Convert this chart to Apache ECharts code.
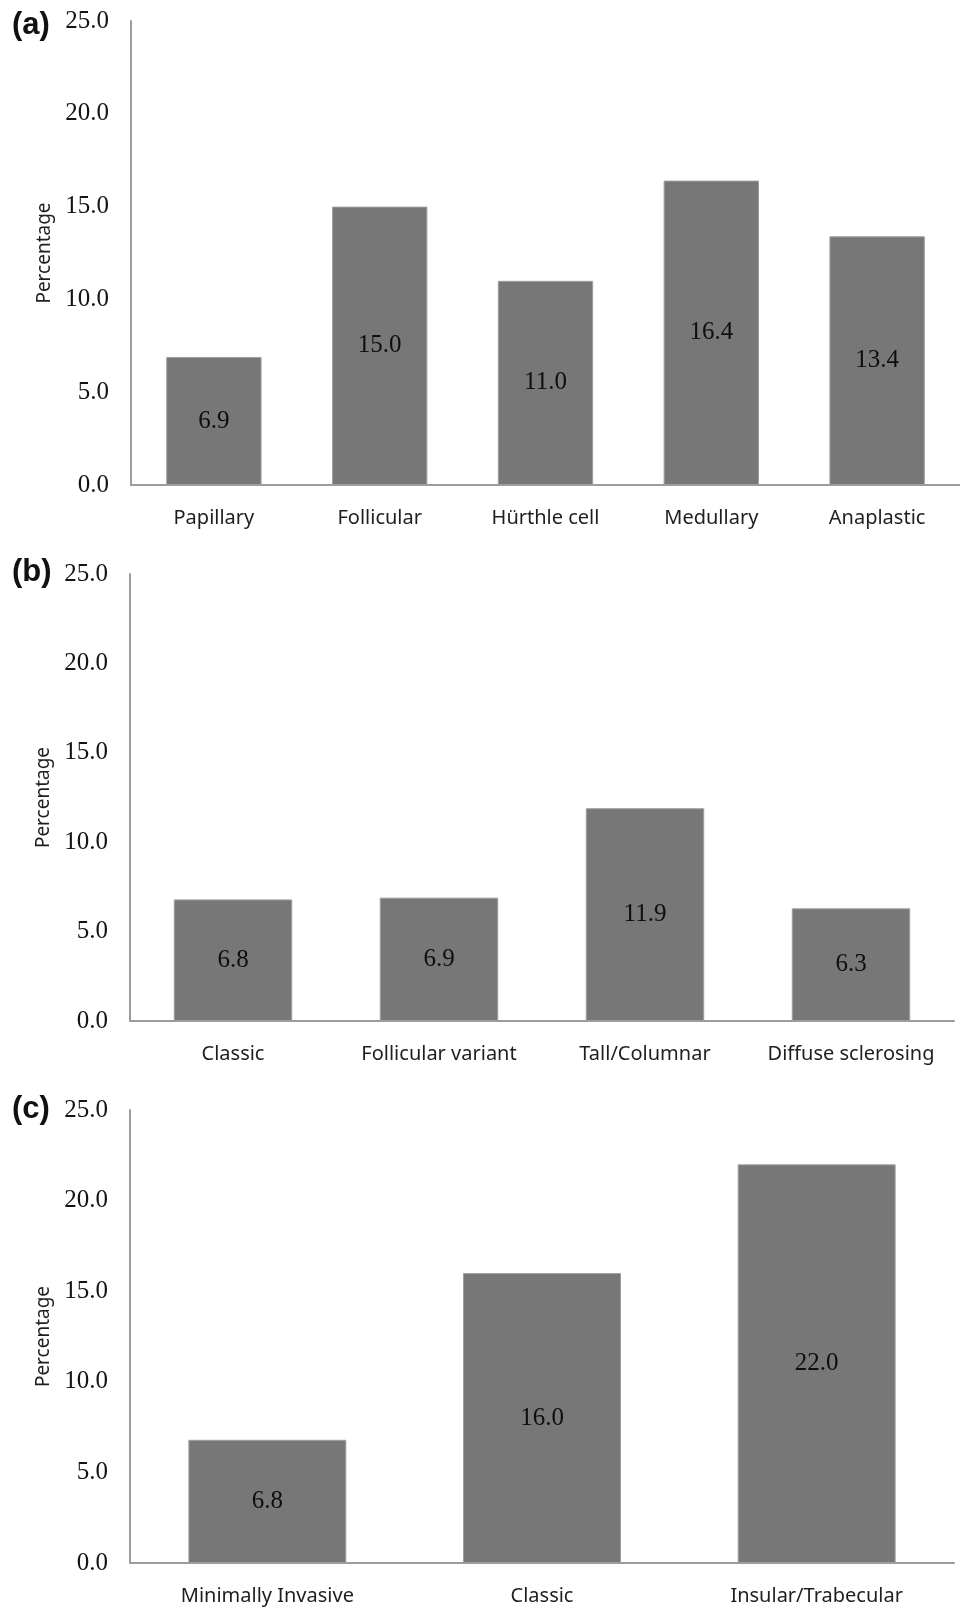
<!DOCTYPE html>
<html>
<head>
<meta charset="utf-8">
<title>Percentage by histologic type</title>
<script src="https://cdn.jsdelivr.net/npm/echarts@6/dist/echarts.min.js"></script>
<style>
  html, body { margin: 0; padding: 0; background: #ffffff; }
  #chart { width: 960px; height: 1610px; }
</style>
</head>
<body>
<div id="chart"></div>
<script>
// Panel (a): thyroid cancer types
const typeCategories = ['Papillary', 'Follicular', 'Hürthle cell', 'Medullary', 'Anaplastic'];
const typeValues = [6.9, 15.0, 11.0, 16.4, 13.4];

// Panel (b): papillary variants
const papillaryCategories = ['Classic', 'Follicular variant', 'Tall/Columnar', 'Diffuse sclerosing'];
const papillaryValues = [6.8, 6.9, 11.9, 6.3];

// Panel (c): follicular subtypes
const follicularCategories = ['Minimally Invasive', 'Classic', 'Insular/Trabecular'];
const follicularValues = [6.8, 16.0, 22.0];

// Shared y-axis range and tick step
const yMin = 0;
const yMax = 25;
const yStep = 5;
const yAxisName = 'Percentage';
const panelLabels = ['(a)', '(b)', '(c)'];

const panels = [
  { cats: typeCategories, vals: typeValues,
    grid: { left: 131, top: 21, width: 835, height: 464 }, labelY: 28 },
  { cats: papillaryCategories, vals: papillaryValues,
    grid: { left: 130, top: 574, width: 824, height: 447 }, labelY: 575 },
  { cats: follicularCategories, vals: follicularValues,
    grid: { left: 130, top: 1110, width: 824, height: 453 }, labelY: 1112 }
];

const axisColor = '#9c9c9c';
const serif = '"Liberation Serif", "DejaVu Serif", serif';
const sans = '"Noto Sans", "Open Sans", sans-serif';

const option = {
  backgroundColor: '#ffffff',
  animation: false,
  grid: panels.map(p => Object.assign({ containLabel: false }, p.grid)),
  xAxis: panels.map((p, i) => ({
    type: 'category',
    gridIndex: i,
    data: p.cats,
    axisLine: { show: true, lineStyle: { color: axisColor, width: 2 } },
    axisTick: { show: false },
    axisLabel: { color: '#1e1e1e', fontFamily: sans, fontSize: 20, margin: 23, interval: 0 },
    splitLine: { show: false }
  })),
  yAxis: panels.map((p, i) => ({
    type: 'value',
    gridIndex: i,
    min: yMin,
    max: yMax,
    interval: yStep,
    name: yAxisName,
    nameLocation: 'middle',
    nameRotate: 90,
    nameGap: 76,
    nameTextStyle: { color: '#1e1e1e', fontFamily: sans, fontSize: 19 },
    axisLine: { show: true, lineStyle: { color: axisColor, width: 2 } },
    axisTick: { show: false },
    axisLabel: {
      color: '#141414', fontFamily: serif, fontSize: 25, margin: 22,
      formatter: v => v.toFixed(1)
    },
    splitLine: { show: false }
  })),
  series: panels.map((p, i) => ({
    type: 'bar',
    xAxisIndex: i,
    yAxisIndex: i,
    data: p.vals,
    barCategoryGap: '42.5%',
    itemStyle: { color: '#777777', borderColor: '#9e9e9e', borderWidth: 1 },
    label: {
      show: true,
      position: 'inside',
      color: '#0e0e0e',
      fontFamily: serif,
      fontSize: 25,
      formatter: d => d.value.toFixed(1)
    }
  })),
  graphic: panels.map((p, i) => ({
    type: 'text',
    left: 12,
    top: p.labelY - 18,
    style: {
      text: panelLabels[i],
      fill: '#111111',
      font: 'bold 31px "Liberation Sans", Arial, sans-serif'
    }
  }))
};

const chart = echarts.init(document.getElementById('chart'), null, { renderer: 'canvas' });
chart.setOption(option);
</script>
</body>
</html>
